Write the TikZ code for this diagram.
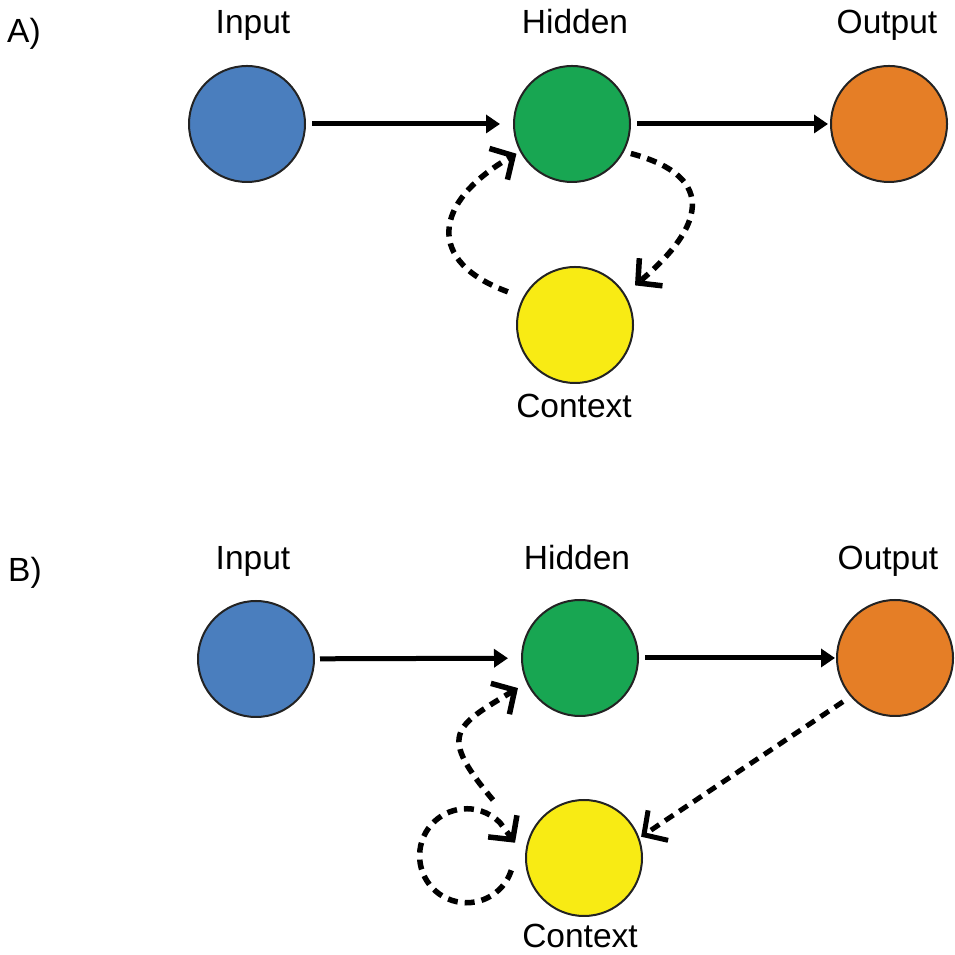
\documentclass[tikz,border=0pt]{standalone}
\usepackage{fontspec}
\setmainfont{Liberation Sans}
\usetikzlibrary{arrows.meta}
\definecolor{inblue}{RGB}{74,126,190}
\definecolor{hidgreen}{RGB}{24,166,82}
\definecolor{outorange}{RGB}{229,126,38}
\definecolor{ctxyellow}{RGB}{248,235,20}
\definecolor{rim}{RGB}{35,35,35}
\tikzset{
	neuron/.style={circle,draw=rim,line width=2pt,minimum size=116pt,inner sep=0pt},
	lab/.style={anchor=base,inner sep=0pt,font=\fontsize{33.5}{40}\selectfont},
	feed/.style={line width=5pt,-{Triangle[length=14pt,width=18pt]}},
	recur/.style={line width=5.5pt,dash pattern=on 10pt off 7pt,-{Straight Barb[length=17pt,width=36pt]}}
}
\begin{document}
\begin{tikzpicture}[x=1pt,y=1pt]
		\useasboundingbox (0,0) rectangle (954,955);
		\node[lab,anchor=base west] (panA) at (7,912) {A)};
		\node[lab,anchor=base west] (panB) at (8,373) {B)};
		\begin{scope}
		\node[neuron,fill=inblue] (inA) at (247,831) {};
		\node[neuron,fill=hidgreen] (hidA) at (572,831) {};
		\node[neuron,fill=outorange] (outA) at (889,831) {};
		\node[neuron,fill=ctxyellow] (ctxA) at (575,630) {};
		\node[lab] (inlabA) at (253,921) {Input};
		\node[lab] (hidlabA) at (575,921) {Hidden};
		\node[lab] (outlabA) at (887,921) {Output};
		\node[lab] (ctxlabA) at (574,537) {Context};
		\draw[feed,shorten <=6pt,shorten >=13pt] (inA) -- (hidA);
		\draw[feed,shorten <=6pt,shorten >=2pt] (hidA) -- (outA);
		\draw[recur,shorten <=7pt,shorten >=13pt] (hidA.-28) to[out=-15,in=40,looseness=1.8] (ctxA.32);
		\draw[recur,shorten <=16pt,shorten >=4pt] (ctxA.152) to[out=160,in=210,looseness=1.8] (hidA.208);
		\end{scope}
		\begin{scope}
		\node[neuron,fill=inblue] (inB) at (256,296) {};
		\node[neuron,fill=hidgreen] (hidB) at (580,297) {};
		\node[neuron,fill=outorange] (outB) at (895,297) {};
		\node[neuron,fill=ctxyellow] (ctxB) at (584,97) {};
		\node[lab] (inlabB) at (253,385) {Input};
		\node[lab] (hidlabB) at (577,385) {Hidden};
		\node[lab] (outlabB) at (888,385) {Output};
		\node[lab] (ctxlabB) at (580,7) {Context};
		\coordinate (tailB) at (493,155);
		\draw[feed,shorten <=5pt,shorten >=13pt] (inB) -- (hidB);
		\draw[feed,shorten <=6pt,shorten >=1pt] (hidB) -- (outB);
		\draw[recur,shorten >=10pt] (tailB) to[out=130,in=211,looseness=1.8] (hidB.205);
		\draw[recur] ([shift={(-15,0)}]ctxB.192) arc[start angle=-18,end angle=-315,radius=47] -- ([shift={(-12,0)}]ctxB.165);
		\draw[recur,line width=5pt,shorten <=9pt,shorten >=2pt] (outB.221) -- (ctxB.20);
		\end{scope}
\end{tikzpicture}
\end{document}
